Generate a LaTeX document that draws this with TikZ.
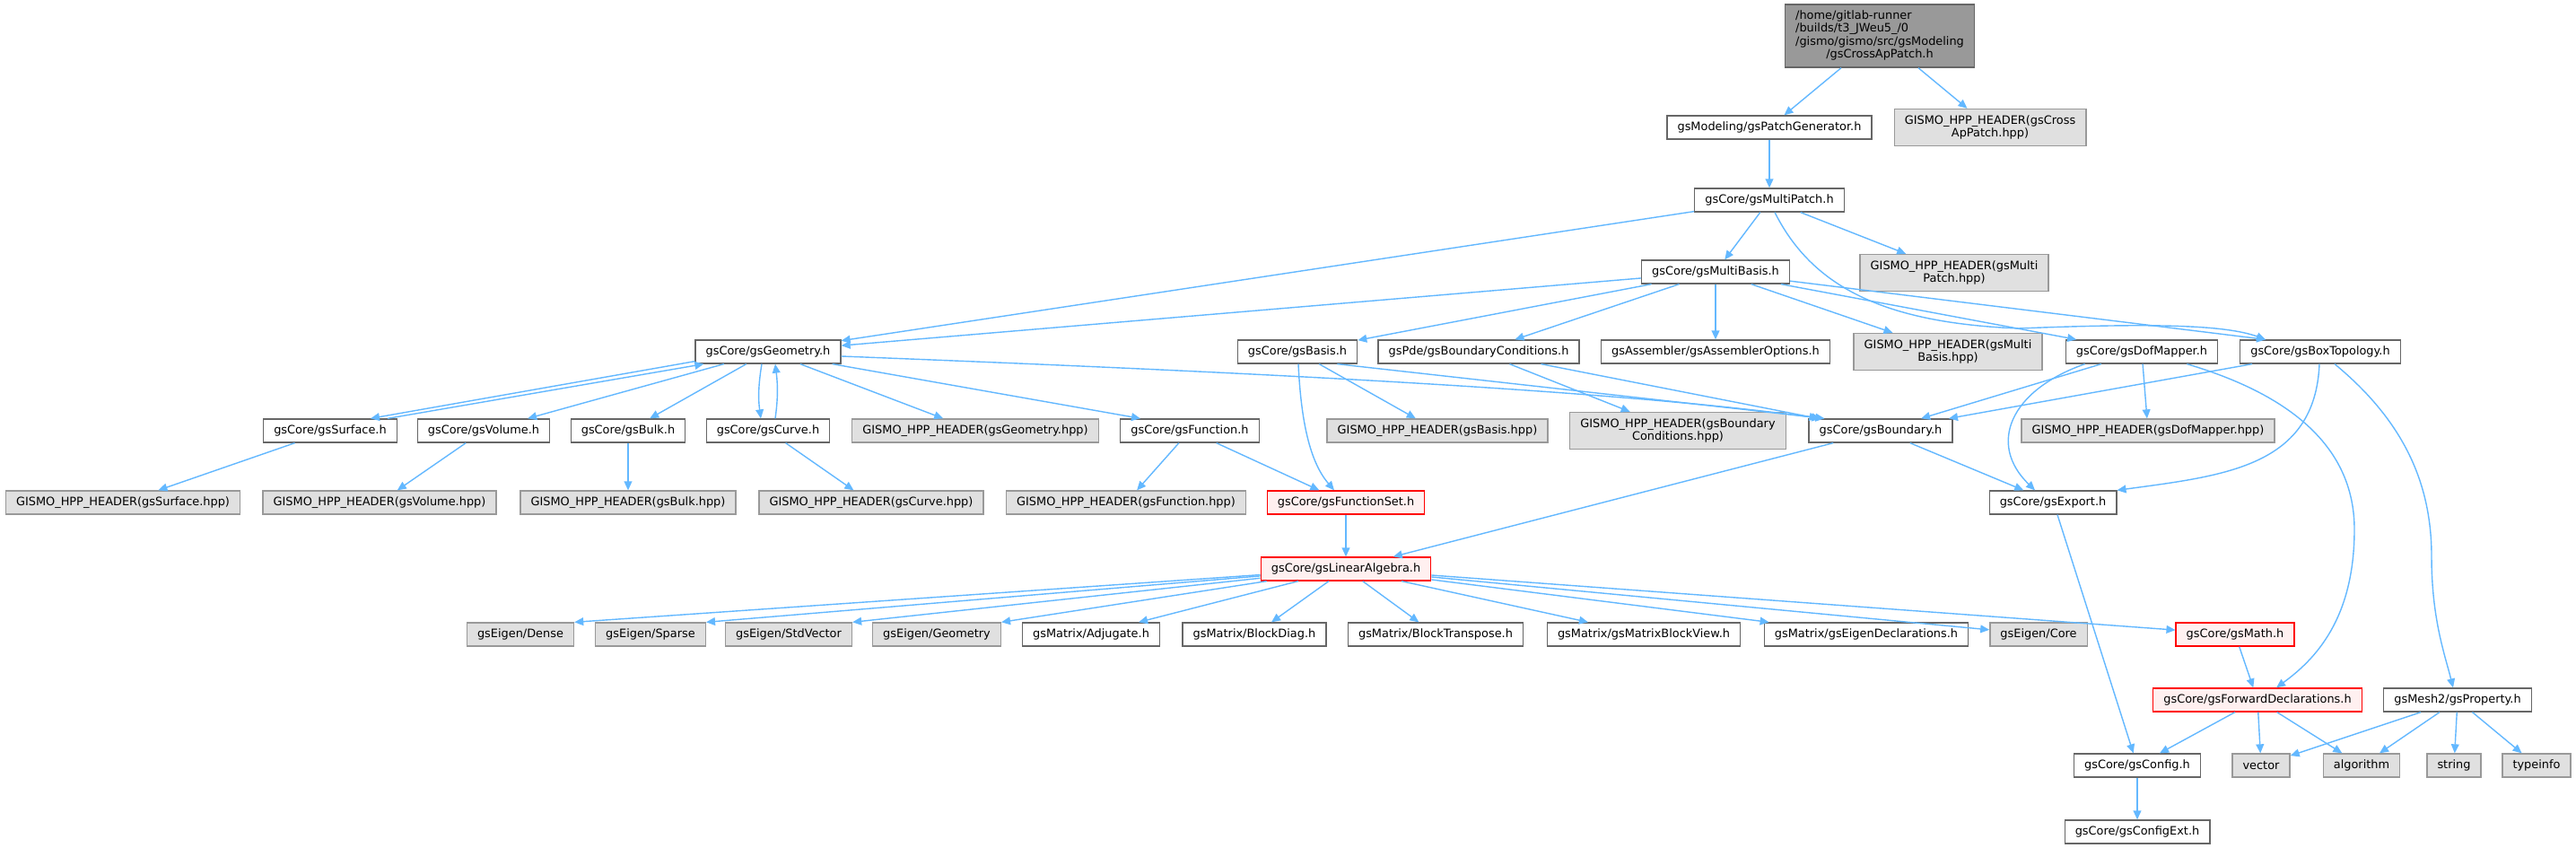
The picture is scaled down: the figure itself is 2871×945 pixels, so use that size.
\documentclass[tikz,border=0pt]{standalone}
\usepackage{fontspec}
\setmainfont{DejaVu Sans}
\usepackage{xcolor}
\usepackage{tikz}
\usetikzlibrary{arrows.meta, calc}

\definecolor{edgeblue}{HTML}{63B8FF}
\definecolor{extfill}{HTML}{E0E0E0}
\definecolor{extline}{HTML}{999999}
\definecolor{fileline}{HTML}{666666}
\definecolor{cutfill}{HTML}{FFF0F0}
\definecolor{rootfill}{HTML}{999999}

\begin{document}
\begin{tikzpicture}[
    x=0.5pt, y=-0.5pt,
    font=\fontsize{6.45pt}{7.3pt}\selectfont,
    block/.style={draw=fileline, fill=white, line width=0.65pt, rectangle, inner xsep=5.8pt, inner ysep=0pt, minimum height=13pt, align=center},
    ext/.style={block, draw=extline, fill=extfill},
    cut/.style={block, draw=red, fill=cutfill},
    twoline/.style={minimum height=20.5pt},
    mainfile/.style={block, fill=rootfill, minimum height=35pt},
    arrow/.style={draw=edgeblue, line width=0.7pt, -{Triangle[length=5pt, width=4.4pt]}}
]
\path[use as bounding box, fill=white] (0,0) rectangle (2871,945);

% Nodes
\node (root) [mainfile] at (2095,40) {\begin{tabular}{@{}l@{}}/home/gitlab-runner\\/builds/t3\_JWeu5\_/0\\/gismo/gismo/src/gsModeling\\\multicolumn{1}{@{}c@{}}{/gsCrossApPatch.h}\end{tabular}};
\node (patchgen) [block] at (1972,142) {gsModeling/gsPatchGenerator.h};
\node (crosshpp) [ext, twoline] at (2218,142) {GISMO\_HPP\_HEADER(gsCross\\ApPatch.hpp)};
\node (multipatch) [block] at (1972,223) {gsCore/gsMultiPatch.h};
\node (multibasis) [block] at (1912,303) {gsCore/gsMultiBasis.h};
\node (multipatchhpp) [ext, twoline] at (2178,304) {GISMO\_HPP\_HEADER(gsMulti\\Patch.hpp)};

\node (geometry) [block] at (856,392) {gsCore/gsGeometry.h};
\node (basis) [block] at (1446,392) {gsCore/gsBasis.h};
\node (bcond) [block] at (1648,392) {gsPde/gsBoundaryConditions.h};
\node (assembleropt) [block] at (1912,392) {gsAssembler/gsAssemblerOptions.h};
\node (multibasishpp) [ext, twoline] at (2171,392) {GISMO\_HPP\_HEADER(gsMulti\\Basis.hpp)};
\node (dofmapper) [block] at (2387,392) {gsCore/gsDofMapper.h};
\node (boxtopology) [block] at (2586,392) {gsCore/gsBoxTopology.h};

\node (surface) [block] at (368,480) {gsCore/gsSurface.h};
\node (volume) [block] at (539,480) {gsCore/gsVolume.h};
\node (bulk) [block] at (700,480) {gsCore/gsBulk.h};
\node (curve) [block] at (856,480) {gsCore/gsCurve.h};
\node (geometryhpp) [ext] at (1087,480) {GISMO\_HPP\_HEADER(gsGeometry.hpp)};
\node (function) [block] at (1326,480) {gsCore/gsFunction.h};
\node (basishpp) [ext] at (1602,480) {GISMO\_HPP\_HEADER(gsBasis.hpp)};
\node (bcondhpp) [ext, twoline] at (1870,480) {GISMO\_HPP\_HEADER(gsBoundary\\Conditions.hpp)};
\node (boundary) [block] at (2096,480) {gsCore/gsBoundary.h};
\node (dofmapperhpp) [ext] at (2394,480) {GISMO\_HPP\_HEADER(gsDofMapper.hpp)};

\node (surfacehpp) [ext] at (137,560) {GISMO\_HPP\_HEADER(gsSurface.hpp)};
\node (volumehpp) [ext] at (423,560) {GISMO\_HPP\_HEADER(gsVolume.hpp)};
\node (bulkhpp) [ext] at (700,560) {GISMO\_HPP\_HEADER(gsBulk.hpp)};
\node (curvehpp) [ext] at (971,560) {GISMO\_HPP\_HEADER(gsCurve.hpp)};
\node (functionhpp) [ext] at (1255,560) {GISMO\_HPP\_HEADER(gsFunction.hpp)};
\node (functionset) [cut] at (1500,560) {gsCore/gsFunctionSet.h};
\node (export) [block] at (2288,560) {gsCore/gsExport.h};

\node (linalg) [cut] at (1500,634) {gsCore/gsLinearAlgebra.h};

\node (dense) [ext] at (580,707) {gsEigen/Dense};
\node (sparse) [ext] at (725,707) {gsEigen/Sparse};
\node (stdvector) [ext] at (879,707) {gsEigen/StdVector};
\node (eigengeometry) [ext] at (1044,707) {gsEigen/Geometry};
\node (adjugate) [block] at (1216,707) {gsMatrix/Adjugate.h};
\node (blockdiag) [block] at (1398,707) {gsMatrix/BlockDiag.h};
\node (blocktranspose) [block] at (1600,707) {gsMatrix/BlockTranspose.h};
\node (blockview) [block] at (1832,707) {gsMatrix/gsMatrixBlockView.h};
\node (eigendecl) [block] at (2080,707) {gsMatrix/gsEigenDeclarations.h};
\node (eigencore) [ext] at (2272,707) {gsEigen/Core};
\node (math) [cut] at (2491,707) {gsCore/gsMath.h};

\node (fwddecl) [cut] at (2516,780) {gsCore/gsForwardDeclarations.h};
\node (property) [block] at (2739,780) {gsMesh2/gsProperty.h};
\node (config) [block] at (2382,853) {gsCore/gsConfig.h};
\node (vector) [ext] at (2520,853) {vector};
\node (algorithm) [ext] at (2632,853) {algorithm};
\node (string) [ext] at (2735,853) {string};
\node (typeinfo) [ext] at (2827,853) {typeinfo};
\node (configext) [block] at (2382,927) {gsCore/gsConfigExt.h};

% Links
\draw[arrow] (root) -- (patchgen);
\draw[arrow] (root) -- (crosshpp);
\draw[arrow] (patchgen) -- (multipatch);

\draw[arrow] (multipatch) -- (geometry);
\draw[arrow] (multipatch) -- (multibasis);
\draw[arrow] (multipatch) -- (multipatchhpp);
\draw[arrow] ($(multipatch.south)+(6,0)$) .. controls (2020,320) and (2100,360) .. (2250,366) .. controls (2400,360) and (2480,362) .. ($(boxtopology.north)+(-61,0)$);

\draw[arrow] (multibasis) -- (geometry);
\draw[arrow] (multibasis) -- (basis);
\draw[arrow] (multibasis) -- (bcond);
\draw[arrow] (multibasis) -- (assembleropt);
\draw[arrow] (multibasis) -- (multibasishpp);
\draw[arrow] (multibasis) -- (dofmapper);
\draw[arrow] (multibasis) -- ($(boxtopology.north)+(-61,0)$);

\draw[arrow] ($(geometry.south west)+(0,-3)$) -- ($(surface.north)+(45,0)$);
\draw[arrow] ($(surface.north)+(64,0)$) -- ($(geometry.south west)+(10,0)$);
\draw[arrow] (geometry) -- (volume);
\draw[arrow] (geometry) -- (bulk);
\draw[arrow] ($(geometry.south)+(-7,0)$) .. controls (845,430) and (845,445) .. ($(curve.north)+(-8,0)$);
\draw[arrow] ($(curve.north)+(8,0)$) .. controls (867,445) and (867,430) .. ($(geometry.south)+(8,0)$);
\draw[arrow] (geometry) -- (geometryhpp);
\draw[arrow] ($(geometry.south east)+(-10,0)$) -- ($(function.north)+(-55,0)$);
\draw[arrow] ($(geometry.east)+(0,5)$) .. controls (1400,415) and (1800,435) .. ($(boundary.north west)+(14,0)$);

\draw[arrow] ($(basis.south)+(1,0)$) .. controls (1450,470) and (1460,515) .. ($(functionset.north)+(-13,0)$);
\draw[arrow] (basis) -- (basishpp);
\draw[arrow] ($(basis.south east)+(-23,0)$) -- ($(boundary.north west)+(18,0)$);
\draw[arrow] (bcond) -- (bcondhpp);
\draw[arrow] (bcond) -- (boundary);

\draw[arrow] (dofmapper) -- (boundary);
\draw[arrow] (dofmapper) -- (dofmapperhpp);
\draw[arrow] ($(dofmapper.south west)+(22,0)$) .. controls (2240,435) and (2215,495) .. ($(export.north)+(-20,0)$);
\draw[arrow] ($(dofmapper.south east)+(-35,0)$) .. controls (2570,445) and (2624,510) .. (2624,590) .. controls (2624,690) and (2580,735) .. ($(fwddecl.north)+(21,0)$);
\draw[arrow] (boxtopology) -- (boundary);
\draw[arrow] ($(boxtopology.south)+(-1,0)$) .. controls (2580,520) and (2480,530) .. (export.north east);
\draw[arrow] ($(boxtopology.south)+(16,0)$) .. controls (2680,470) and (2710,540) .. (2710,620) .. controls (2710,690) and (2725,730) .. ($(property.north)+(-5,0)$);

\draw[arrow] (surface) -- (surfacehpp);
\draw[arrow] (volume) -- (volumehpp);
\draw[arrow] (bulk) -- (bulkhpp);
\draw[arrow] (curve) -- (curvehpp);
\draw[arrow] (function) -- (functionhpp);
\draw[arrow] (function) -- (functionset);
\draw[arrow] (boundary) -- (linalg);
\draw[arrow] (boundary) -- (export);
\draw[arrow] ($(export.south)+(5,0)$) -- (config);
\draw[arrow] (functionset) -- (linalg);

\draw[arrow] (linalg) -- (dense.north east);
\draw[arrow] (linalg) -- (sparse.north east);
\draw[arrow] (linalg) -- (stdvector.north east);
\draw[arrow] (linalg) -- (eigengeometry.north east);
\draw[arrow] (linalg) -- (adjugate);
\draw[arrow] (linalg) -- (blockdiag);
\draw[arrow] (linalg) -- (blocktranspose);
\draw[arrow] (linalg) -- (blockview);
\draw[arrow] (linalg) -- (eigendecl);
\draw[arrow] (linalg) -- (eigencore);
\draw[arrow] (linalg) -- (math);

\draw[arrow] (math) -- (fwddecl);
\draw[arrow] (fwddecl) -- (config);
\draw[arrow] (fwddecl) -- (vector);
\draw[arrow] (fwddecl) -- (algorithm);
\draw[arrow] (property) -- (vector);
\draw[arrow] (property) -- (algorithm);
\draw[arrow] (property) -- (string);
\draw[arrow] (property) -- (typeinfo);
\draw[arrow] (config) -- (configext);

\end{tikzpicture}
\end{document}
